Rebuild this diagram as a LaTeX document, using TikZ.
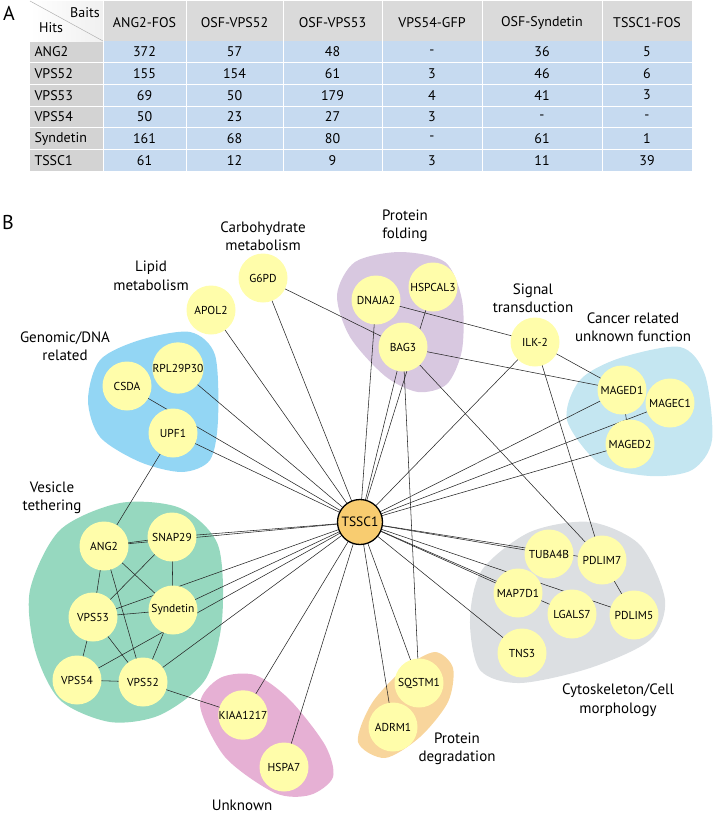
\documentclass[tikz,border=0pt]{standalone}
\usepackage{fontspec}
\setmainfont{PT Sans}
\pgfdeclarelayer{blobs}
\pgfdeclarelayer{links}
\pgfsetlayers{blobs,links,main}
\definecolor{hdrgray}{HTML}{DADADA}
\definecolor{hitgray}{HTML}{D3D3D3}
\definecolor{cellblue}{HTML}{C6DAF0}
\definecolor{protyellow}{HTML}{FFFDAA}
\definecolor{hubor}{HTML}{F8CC70}
\definecolor{genblue}{HTML}{93D6F4}
\definecolor{foldpurple}{HTML}{D8C8E0}
\definecolor{cancercyan}{HTML}{C4E6F1}
\definecolor{vesgreen}{HTML}{96D8BF}
\definecolor{unkpink}{HTML}{E6B0D4}
\definecolor{degorange}{HTML}{F8D59C}
\definecolor{cytogray}{HTML}{DCDFE2}
\tikzset{
	prot/.style={circle,fill=protyellow,minimum size=49pt,inner sep=0pt,font=\fontsize{11.5}{12}\selectfont},
	hub/.style={prot,fill=hubor,draw=black,line width=1.3pt,minimum size=45pt,font=\fontsize{13.5}{14}\selectfont},
	grp/.style={align=center,font=\fontsize{15}{18.5}\selectfont},
	link/.style={draw=black!85,line width=0.55pt},
	cell/.style={font=\fontsize{14}{15}\selectfont},
}
\begin{document}
\begin{tikzpicture}[x=1pt,y=-1pt]
				\useasboundingbox (0,0) rectangle (713,814);
				\node[font=\fontsize{20}{21}\selectfont] (labA) at (9,13) {A};
				\node[font=\fontsize{20}{21}\selectfont] (labB) at (8,222) {B};
				\fill[hdrgray] (30,1) rectangle (692,41);
				\fill[hitgray] (30,41) rectangle (103,171);
				\fill[cellblue] (103,41) rectangle (692,171);
				\shade[left color=white,right color=gray!12] (30,1) rectangle (103,41);
				\draw[gray!60,line width=0.5pt] (30,1) -- (103,41);
				\foreach \x in {103,186,283,382,482,602}
				\draw[white,line width=0.8pt] (\x,1) -- (\x,171);
				\foreach \i in {1,...,5}
				\draw[white,line width=0.8pt] (30,41+\i*21.67) -- (692,41+\i*21.67);
				\node[cell] (baits) at (85,13) {Baits};
				\node[cell] (hits) at (51,28) {Hits};
				\foreach \t/\x [count=\j] in {ANG2-FOS/144.5,OSF-VPS52/234.5,OSF-VPS53/332.5,VPS54-GFP/432,OSF-Syndetin/542,TSSC1-FOS/647}
				\node[cell] (h\j) at (\x,23) {\t};
				\foreach \n/\a/\b/\c/\d/\e/\f [count=\i] in {ANG2/372/57/48/-/36/5,VPS52/155/154/61/3/46/6,VPS53/69/50/179/4/41/3,VPS54/50/23/27/3/-/-,Syndetin/161/68/80/-/61/1,TSSC1/61/12/9/3/11/39}{
					\pgfmathsetmacro\ry{41+(\i-0.5)*21.67}
					\node[cell,anchor=west] (r\i) at (31,\ry) {\n};
					\node[cell] (r\i a) at (144.5,\ry) {\a};
					\node[cell] (r\i b) at (234.5,\ry) {\b};
					\node[cell] (r\i c) at (332.5,\ry) {\c};
					\node[cell] (r\i d) at (432,\ry) {\d};
					\node[cell] (r\i e) at (542,\ry) {\e};
					\node[cell] (r\i f) at (647,\ry) {\f};
				}
				\begin{pgfonlayer}{blobs}
				\fill[genblue] plot[smooth cycle] coordinates {(88,400) (100,360) (140,340) (190,332) (215,355) (218,420) (210,460) (182,472) (140,462) (100,437)};
				\fill[foldpurple] plot[smooth cycle] coordinates {(337,295) (355,262) (400,252) (445,262) (462,300) (462,350) (447,384) (418,392) (385,376) (350,337)};
				\fill[cancercyan] plot[smooth cycle] coordinates {(567,420) (580,380) (620,358) (680,347) (705,375) (712,440) (692,470) (650,476) (600,464)};
				\fill[vesgreen] plot[smooth cycle] coordinates {(30,590) (60,530) (120,503) (180,508) (218,545) (222,620) (205,680) (160,715) (110,722) (60,700) (35,650)};
				\fill[unkpink] plot[smooth cycle] coordinates {(200,705) (220,678) (255,675) (290,700) (325,745) (333,777) (310,795) (275,793) (225,757)};
				\fill[degorange] plot[smooth cycle] coordinates {(358,742) (372,703) (405,668) (435,652) (453,668) (448,702) (420,737) (385,758)};
				\fill[cytogray] plot[smooth cycle] coordinates {(470,620) (482,570) (530,532) (590,522) (640,545) (665,600) (650,640) (590,668) (520,683) (480,670)};
				\end{pgfonlayer}
				\node[grp] (lipid) at (151,276) {Lipid\\metabolism};
				\node[grp] (carbo) at (263,236) {Carbohydrate\\metabolism};
				\node[grp] (fold) at (405,226) {Protein\\folding};
				\node[grp] (signal) at (533,298) {Signal\\transduction};
				\node[grp] (cancer) at (633,327) {Cancer related\\unknown function};
				\node[grp] (genomic) at (65,346) {Genomic/DNA\\related};
				\node[grp] (vesicle) at (52,498) {Vesicle\\tethering};
				\node[grp] (unknown) at (242,805) {Unknown};
				\node[grp] (degrad) at (457,749) {Protein\\degradation};
				\node[grp] (cyto) at (618,700) {Cytoskeleton/Cell\\morphology};
				\node[hub] (tssc1) at (360,522) {TSSC1};
				\node[prot] (g6pd) at (263,278) {G6PD};
				\node[prot] (apol2) at (211,310) {APOL2};
				\node[prot] (csda) at (127,386) {CSDA};
				\node[prot] (rpl) at (178,368) {RPL29P30};
				\node[prot] (upf1) at (173,433) {UPF1};
				\node[prot] (dnaja2) at (376,300) {DNAJA2};
				\node[prot] (hspcal3) at (433,287) {HSPCAL3};
				\node[prot] (bag3) at (403,347) {BAG3};
				\node[prot] (ilk2) at (535,342) {ILK-2};
				\node[prot] (maged1) at (622,390) {MAGED1};
				\node[prot] (magec1) at (670,403) {MAGEC1};
				\node[prot] (maged2) at (630,444) {MAGED2};
				\node[prot] (ang2) at (104,546) {ANG2};
				\node[prot] (snap29) at (172,537) {SNAP29};
				\node[prot] (vps53) at (93,617) {VPS53};
				\node[prot] (syndetin) at (173,610) {Syndetin};
				\node[prot] (vps54) at (77,680) {VPS54};
				\node[prot] (vps52) at (143,682) {VPS52};
				\node[prot] (kiaa) at (243,715) {KIAA1217};
				\node[prot] (hspa7) at (284,767) {HSPA7};
				\node[prot] (tuba4b) at (549,554) {TUBA4B};
				\node[prot] (pdlim7) at (602,560) {PDLIM7};
				\node[prot] (map7d1) at (518,593) {MAP7D1};
				\node[prot] (lgals7) at (572,614) {LGALS7};
				\node[prot] (pdlim5) at (634,615) {PDLIM5};
				\node[prot] (tns3) at (522,653) {TNS3};
				\node[prot] (sqstm1) at (419,683) {SQSTM1};
				\node[prot] (adrm1) at (393,727) {ADRM1};
				\begin{pgfonlayer}{links}
				\foreach \n in {g6pd,apol2,csda,rpl,upf1,dnaja2,hspcal3,bag3,ilk2,maged1,magec1,maged2,ang2,snap29,vps53,syndetin,vps54,vps52,kiaa,hspa7,tuba4b,pdlim7,map7d1,lgals7,pdlim5,tns3,sqstm1,adrm1}
				\draw[link] (tssc1.center) -- (\n.center);
				\foreach \a/\b in {upf1/ang2,g6pd/bag3,dnaja2/ilk2,bag3/maged1,bag3/pdlim7,bag3/sqstm1,ilk2/maged1,ilk2/pdlim7,maged1/maged2,pdlim7/pdlim5,ang2/snap29,ang2/vps53,ang2/syndetin,ang2/vps52,snap29/vps53,snap29/syndetin,vps53/syndetin,vps53/vps54,vps53/vps52,vps54/vps52,syndetin/vps52,vps52/kiaa}
				\draw[link] (\a.center) -- (\b.center);
				\end{pgfonlayer}
			\end{tikzpicture}
\end{document}
